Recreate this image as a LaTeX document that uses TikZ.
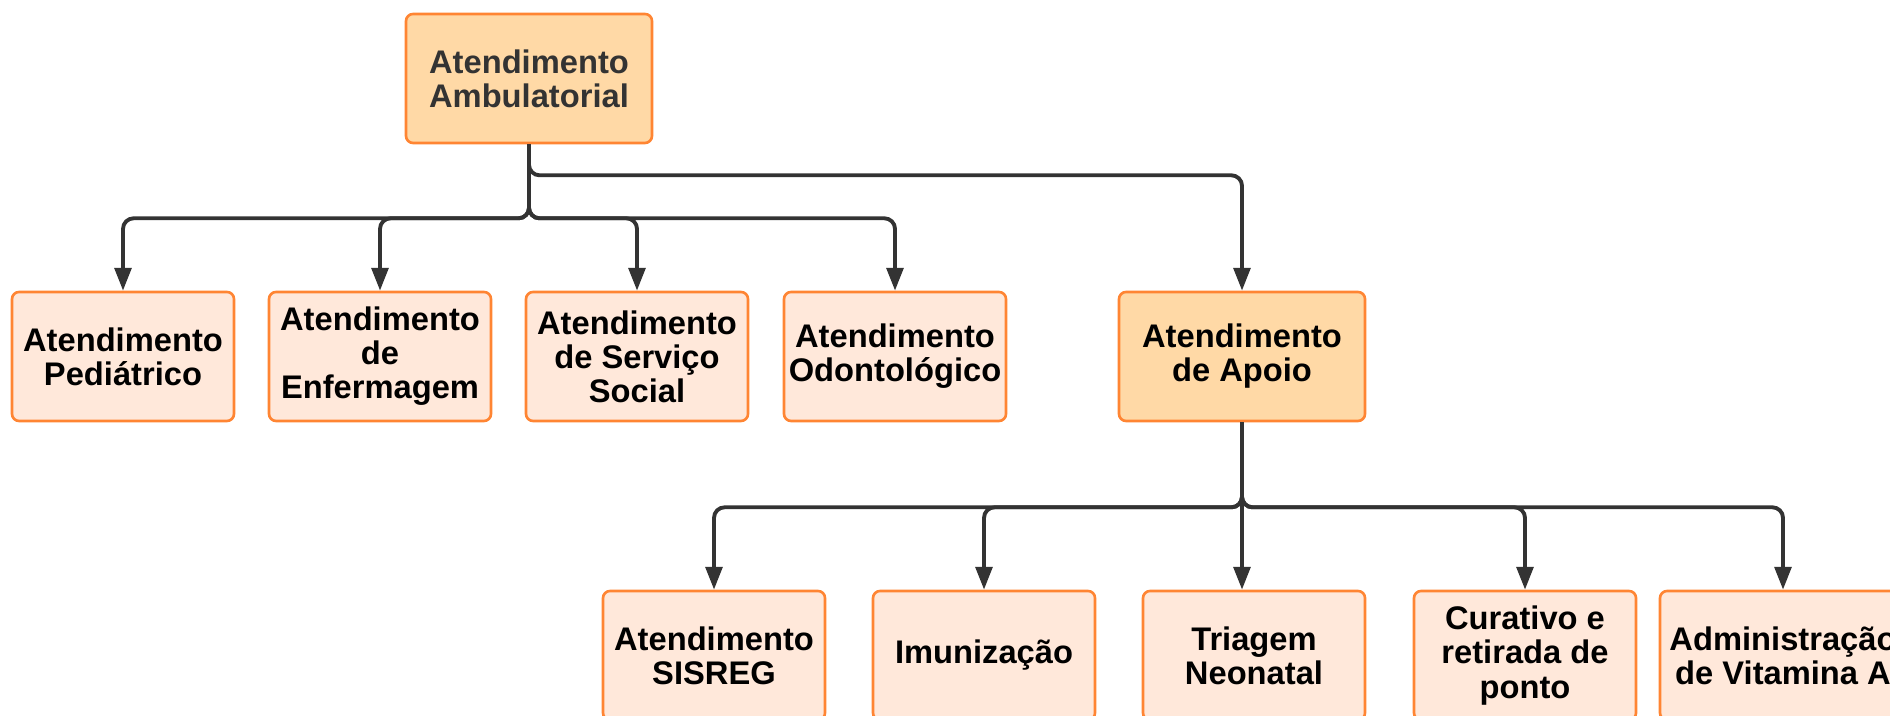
\documentclass[tikz,border=0pt]{standalone}
\usepackage{fontspec}
\setmainfont{Liberation Sans}
\usepackage{tikz}
\newcommand*{\boxW}{4.44}
\newcommand*{\boxH}{2.58}
\newcommand*{\wideW}{4.92}
\usetikzlibrary{arrows.meta}
\definecolor{boxLine}{HTML}{FF8533}
\definecolor{boxFill}{HTML}{FFE8DA}
\definecolor{headFill}{HTML}{FFD9A6}
\definecolor{linkGray}{HTML}{333333}
\tikzset{
  unitBox/.style={% ordinary service boxes
    draw=boxLine,
    line width=1.5pt,
    fill=boxFill,
    rounded corners=4pt,
    minimum width=\boxW cm,
    minimum height=\boxH cm,
    inner sep=0pt,
    align=center,
    font=\bfseries\fontsize{18.6}{19.4}\selectfont
  },
  headBox/.style={unitBox, fill=headFill, minimum width=\wideW cm},
  linkArrow/.style={
    draw=linkGray,
    line width=2.2pt,
    rounded corners=6pt,
    -{Triangle[width=9.5pt,length=13pt]}
  }
}

\begin{document}
\begin{tikzpicture}
    \useasboundingbox (0,0) rectangle (37.8,14.32);
    % top
    \node[headBox, text=linkGray] (amb) at (10.58,12.75) {Atendimento\\Ambulatorial};
    % second row
    \node[unitBox] (ped) at (2.46,7.19) {Atendimento\\Pediátrico};
    \node[unitBox] (enf) at (7.6,7.19) {Atendimento\\de\\Enfermagem};
    \node[unitBox] (soc) at (12.74,7.19) {Atendimento\\de Serviço\\Social};
    \node[unitBox] (odo) at (17.9,7.19) {Atendimento\\Odontológico};
    \node[headBox] (apo) at (24.84,7.19) {Atendimento\\de Apoio};
    % third row
    \node[unitBox] (sis) at (14.28,1.21) {Atendimento\\SISREG};
    \node[unitBox] (imu) at (19.68,1.21) {Imunização};
    \node[unitBox] (tri) at (25.08,1.21) {Triagem\\Neonatal};
    \node[unitBox] (cur) at (30.5,1.21) {Curativo e\\retirada de\\ponto};
    \node[unitBox, minimum width=\wideW cm] (vit) at (35.66,1.21) {Administração\\de Vitamina A};
    % links
    \foreach \kid in {ped,enf,soc,odo} {
        \draw[linkArrow] (amb.south) -- ++(0,-1.48) -| (\kid.north);
    }
    \draw[linkArrow] (amb.south) -- ++(0,-0.62) -| (apo.north);
    \foreach \kid in {sis,imu,cur,vit} {
        \draw[linkArrow] (apo.south) -- ++(0,-1.7) -| (\kid.north);
    }
    \draw[linkArrow] (apo.south) -- (apo.south |- tri.north);
\end{tikzpicture}
\end{document}
